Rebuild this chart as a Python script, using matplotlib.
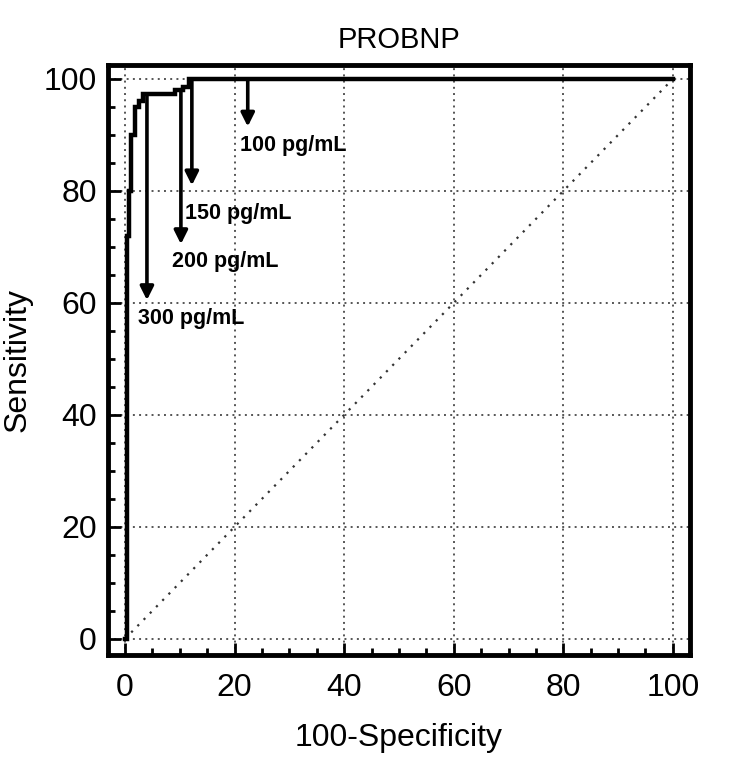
import matplotlib
matplotlib.use("Agg")
import matplotlib.pyplot as plt
from matplotlib.ticker import MultipleLocator

# ROC curve (100-Specificity, Sensitivity)
fpr = [0, 0.3, 0.3, 0.7, 0.7, 1.0, 1.0, 1.8, 1.8, 2.6, 2.6, 3.3, 3.3, 9.1, 9.1, 10.5, 10.5, 11.6, 11.6, 100]
tpr = [0, 0, 72, 72, 80, 80, 90, 90, 95, 95, 96, 96, 97.3, 97.3, 98, 98, 98.5, 98.5, 100, 100]

# cut-off annotations
cut_labels = ["100 pg/mL", "150 pg/mL", "200 pg/mL", "300 pg/mL"]
arrow_x = [22.4, 12.2, 10.2, 4.0]
arrow_y0 = [100, 100, 98, 97.3]
arrow_y1 = [91.5, 81.0, 70.5, 60.5]
label_x = [21.0, 10.9, 8.5, 2.4]
label_y = [88.2, 76.0, 67.4, 57.3]

xticks = [0, 20, 40, 60, 80, 100]
yticks = [0, 20, 40, 60, 80, 100]

plt.rcParams['font.family'] = ["Liberation Sans", "DejaVu Sans"]

fig = plt.figure(figsize=(7.30, 7.62), dpi=100)
ax = fig.add_axes([0.148, 0.1404, 0.797, 0.7743])

ax.set_xlim(-3.1, 103.1)
ax.set_ylim(-2.9, 102.5)

# grid
for v in xticks:
    ax.plot([v, v], [-2.9, 102.5], color="#555555", lw=1.4, ls=(0, (1, 2.2)), zorder=1)
for v in yticks:
    ax.plot([-3.1, 103.1], [v, v], color="#555555", lw=1.4, ls=(0, (1, 2.2)), zorder=1)

# diagonal
ax.plot([0, 100], [0, 100], color="#333333", lw=1.6, ls=(0, (1, 3)), zorder=2)

# ROC curve
ax.plot(fpr, tpr, color="black", lw=3.2, solid_joinstyle="miter", zorder=4)

# arrows and labels
for lab, ax_x, y0, y1, lx, ly in zip(cut_labels, arrow_x, arrow_y0, arrow_y1, label_x, label_y):
    ax.annotate("", xy=(ax_x, y1), xytext=(ax_x, y0),
                arrowprops=dict(arrowstyle="-|>,head_length=0.8,head_width=0.4",
                                color="black", lw=2.6, shrinkA=0, shrinkB=0),
                zorder=5)
    ax.text(lx, ly, lab, fontsize=15.5, fontweight="bold", ha="left", va="center", zorder=6)

ax.set_xticks(xticks)
ax.set_yticks(yticks)
ax.xaxis.set_minor_locator(MultipleLocator(5))
ax.yaxis.set_minor_locator(MultipleLocator(5))
ax.tick_params(which="major", direction="in", length=9, width=2, labelsize=23, pad=8)
ax.tick_params(axis="x", which="major", pad=13)
ax.tick_params(which="minor", direction="in", length=5, width=2)
ax.tick_params(top=False, right=False)
for s in ax.spines.values():
    s.set_linewidth(3.5)

ax.set_xlabel("100-Specificity", fontsize=23, labelpad=14)
ax.set_ylabel("Sensitivity", fontsize=23, labelpad=8)
ax.set_title("PROBNP", fontsize=21, pad=12)

fig.savefig("out.png", dpi=100)
